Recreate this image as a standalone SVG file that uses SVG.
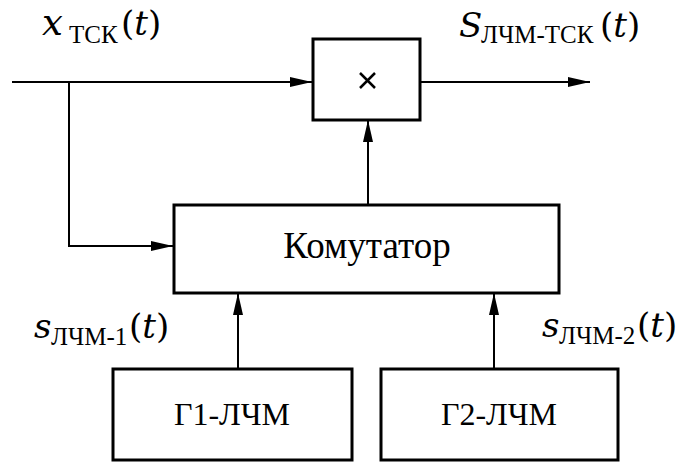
<svg xmlns="http://www.w3.org/2000/svg" width="689" height="462" viewBox="0 0 689 462">
<style>
.box{fill:#fff;stroke:#000;stroke-width:3}
.ln{fill:none;stroke:#000;stroke-width:2}
.t{font-family:"Liberation Serif","Times New Roman",serif;fill:#000}
.m{font-family:"DejaVu Serif","Liberation Serif",serif;font-size:34px;fill:#000}
.i{font-style:italic}
.sub{font-family:"Liberation Serif","Times New Roman",serif;font-size:25px}
</style>
<defs>
<marker id="ah" markerWidth="22" markerHeight="10" refX="22" refY="5" orient="auto" markerUnits="userSpaceOnUse">
<path d="M0,0 L22,5 L0,10 Z" fill="#000"/>
</marker>
</defs>
<g id="connectors">
<path class="ln" d="M12,82 H312" marker-end="url(#ah)"/>
<path class="ln" d="M69,82 V246 H173" marker-end="url(#ah)"/>
<path class="ln" d="M420,82 H590" marker-end="url(#ah)"/>
<path class="ln" d="M368,205 V120" marker-end="url(#ah)"/>
<path class="ln" d="M238,369 V293" marker-end="url(#ah)"/>
<path class="ln" d="M494,369 V293" marker-end="url(#ah)"/>
</g>
<g id="mult">
<rect class="box" x="313" y="39" width="107" height="81"/>
<path d="M360,73 L375,88 M375,73 L360,88" stroke="#000" stroke-width="2.5"/>
</g>
<g id="komutator">
<rect class="box" x="174" y="205" width="385" height="88"/>
<text class="t" x="367" y="258" font-size="37" text-anchor="middle">Комутатор</text>
</g>
<g id="g1">
<rect class="box" x="113" y="369" width="239" height="91"/>
<text class="t" x="232" y="425" font-size="32" text-anchor="middle">Г1-ЛЧМ</text>
</g>
<g id="g2">
<rect class="box" x="381" y="369" width="237" height="91"/>
<text class="t" x="499" y="425" font-size="32" text-anchor="middle">Г2-ЛЧМ</text>
</g>
<g id="labels">
<text class="m"><tspan class="i" x="42" y="35" font-size="37">x</tspan><tspan class="sub" x="69" y="43">ТСК</tspan><tspan x="121" y="35">(</tspan><tspan class="i">t</tspan><tspan>)</tspan></text>
<text class="m"><tspan class="i" x="459" y="37">S</tspan><tspan class="sub" x="481" y="43">ЛЧМ-ТСК</tspan><tspan x="600" y="37">(</tspan><tspan class="i">t</tspan><tspan>)</tspan></text>
<text class="m"><tspan class="i" x="34" y="338">s</tspan><tspan class="sub" x="51" y="345">ЛЧМ-1</tspan><tspan x="129" y="338">(</tspan><tspan class="i">t</tspan><tspan>)</tspan></text>
<text class="m"><tspan class="i" x="542" y="337">s</tspan><tspan class="sub" x="559" y="344">ЛЧМ-2</tspan><tspan x="637" y="337">(</tspan><tspan class="i">t</tspan><tspan>)</tspan></text>
</g>
</svg>
